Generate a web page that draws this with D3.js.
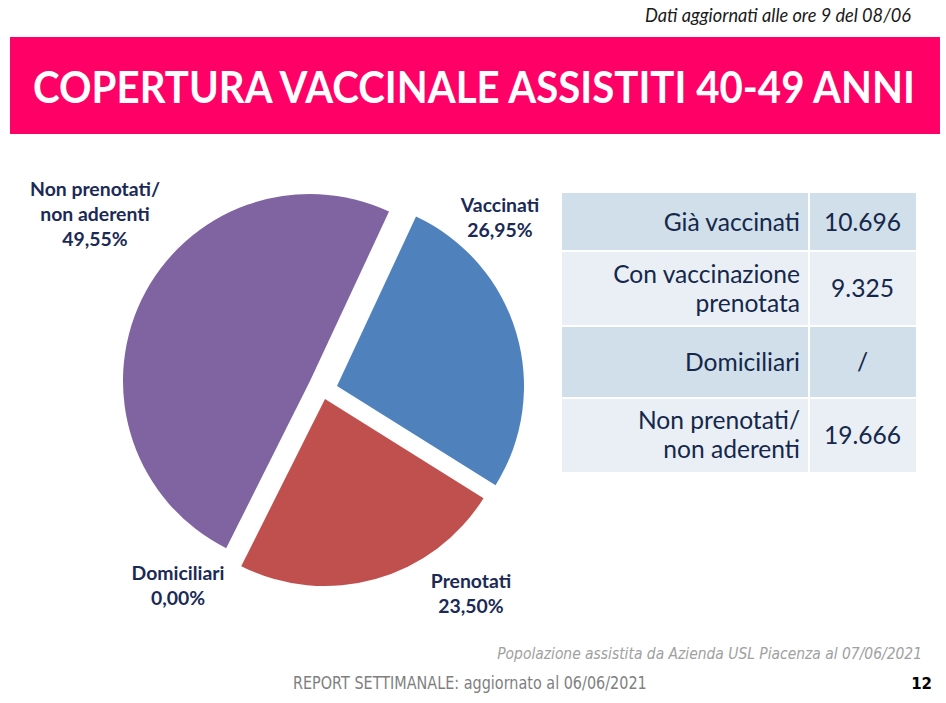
<!DOCTYPE html>
<html>
<head>
<meta charset="utf-8">
<script src="https://cdn.jsdelivr.net/npm/d3@7"></script>
<style>
  html, body { margin: 0; padding: 0; background: #ffffff; }
  svg { display: block; }
</style>
</head>
<body>
<svg id="chart" width="946" height="703"></svg>
<script>
// ---------------- DATA ----------------
const categories = ["Vaccinati", "Prenotati", "Domiciliari", "Non prenotati/ non aderenti"];
const percentages = [26.95, 23.50, 0.00, 49.55];
const pctLabels = ["26,95%", "23,50%", "0,00%", "49,55%"];
const sliceLabelLines = [["Vaccinati"], ["Prenotati"], ["Domiciliari"], ["Non prenotati/", "non aderenti"]];
const tableLabels = [["Già vaccinati"], ["Con vaccinazione", "prenotata"], ["Domiciliari"], ["Non prenotati/", "non aderenti"]];
const tableValues = ["10.696", "9.325", "/", "19.666"];
const titleText = "COPERTURA VACCINALE ASSISTITI 40-49 ANNI";
const updateText = "Dati aggiornati alle ore 9 del 08/06";
const sourceText = "Popolazione assistita da Azienda USL Piacenza al 07/06/2021";
const reportText = "REPORT SETTIMANALE: aggiornato al 06/06/2021";
const pageNumber = "12";

// ---------------- LAYOUT / STYLE ----------------
const sliceColors = ["#4F81BD", "#C0504D", "#9BBB59", "#8064A2"];
const pieCenter = [323, 389];
const pieRadius = 187;
const startDeg = 25;
// explode offsets of each slice (style)
const explode = [[14, -3], [2, 10], [0, 0], [-13, -8]];
// label anchor (centre x, first baseline y)
const labelPos = [[500, 212], [471, 588], [178, 580], [95, 196]];
const labelLineH = 25;
const navy = "#1B2A55";

const svg = d3.select("#chart");

function fitSize(sel, target, base) {
  sel.style("font-size", base + "px");
  const w = sel.node().getComputedTextLength();
  const s = base * target / w;
  sel.style("font-size", s + "px");
  return s;
}
function stretchY(sel, k) {
  const x = +sel.attr("x"), y = +sel.attr("y");
  sel.attr("transform", `translate(0,${y}) scale(1,${k}) translate(0,${-y})`);
}

// ---------------- HEADER ----------------
const upd = svg.append("text")
  .attr("x", 911).attr("y", 22)
  .attr("text-anchor", "end")
  .attr("font-family", "Lato, 'Open Sans', sans-serif")
  .attr("font-style", "italic")
  .attr("fill", "#1a1a1a")
  .text(updateText);
fitSize(upd, 266, 16);
stretchY(upd, 1.08);

svg.append("rect")
  .attr("x", 10).attr("y", 37).attr("width", 930).attr("height", 97)
  .attr("fill", "#FF0066");

const title = svg.append("text")
  .attr("x", 474).attr("y", 103)
  .attr("text-anchor", "middle")
  .attr("font-family", "Lato, 'Open Sans', sans-serif")
  .attr("font-weight", "bold")
  .attr("fill", "#ffffff")
  .text(titleText);
fitSize(title, 882, 44);
stretchY(title, 1.1);

// ---------------- PIE ----------------
const pie = d3.pie().sort(null).value(d => d)
  .startAngle(startDeg * Math.PI / 180)
  .endAngle(startDeg * Math.PI / 180 + 2 * Math.PI);
const arcs = pie(percentages);
const arc = d3.arc().innerRadius(0).outerRadius(pieRadius);

const pg = svg.append("g").attr("transform", `translate(${pieCenter[0]},${pieCenter[1]})`);
pg.selectAll("path.slice")
  .data(arcs)
  .join("path")
  .attr("class", "slice")
  .attr("transform", (d, i) => `translate(${explode[i][0]},${explode[i][1]})`)
  .attr("d", d => (d.endAngle - d.startAngle) > 0 ? arc(d) : null)
  .attr("fill", (d, i) => sliceColors[i]);

// slice labels
categories.forEach((c, i) => {
  const lines = sliceLabelLines[i].concat([pctLabels[i]]);
  const g = svg.append("g");
  lines.forEach((ln, j) => {
    g.append("text")
      .attr("class", "slabel")
      .attr("x", labelPos[i][0])
      .attr("y", labelPos[i][1] + j * labelLineH)
      .attr("text-anchor", "middle")
      .attr("font-family", "Lato, 'Open Sans', sans-serif")
      .attr("font-weight", "bold")
      .attr("fill", navy)
      .text(ln);
  });
});
{
  const ref = svg.selectAll("text.slabel").filter(function () { return d3.select(this).text() === "Non prenotati/"; });
  const s = fitSize(ref, 130, 17);
  svg.selectAll("text.slabel").style("font-size", s + "px");
}

// ---------------- TABLE ----------------
const tX0 = 562, tX1 = 916, tSplit = 809;
const rowEdges = [193, 251, 326, 398, 472];
const rowFill = ["#D0DFE9", "#E9EFF4", "#D0DFE9", "#E9EFF4"];
const tg = svg.append("g");
tableValues.forEach((v, i) => {
  const y0 = rowEdges[i], y1 = rowEdges[i + 1];
  tg.append("rect").attr("x", tX0).attr("y", y0).attr("width", tSplit - tX0).attr("height", y1 - y0).attr("fill", rowFill[i]);
  tg.append("rect").attr("x", tSplit).attr("y", y0).attr("width", tX1 - tSplit).attr("height", y1 - y0).attr("fill", rowFill[i]);
});
rowEdges.slice(1, -1).forEach(y => {
  tg.append("line").attr("x1", tX0).attr("x2", tX1).attr("y1", y).attr("y2", y)
    .attr("stroke", "#ffffff").attr("stroke-width", 2);
});
tg.append("line").attr("x1", tSplit).attr("x2", tSplit).attr("y1", rowEdges[0]).attr("y2", rowEdges[4])
  .attr("stroke", "#ffffff").attr("stroke-width", 2);

const tableLineH = 29;
tableLabels.forEach((lines, i) => {
  const yc = (rowEdges[i] + rowEdges[i + 1]) / 2;
  const n = lines.length;
  lines.forEach((ln, j) => {
    tg.append("text")
      .attr("class", "tlabel")
      .attr("x", 800)
      .attr("y", yc + (j - (n - 1) / 2) * tableLineH)
      .attr("dy", "0.35em")
      .attr("text-anchor", "end")
      .attr("font-family", "Lato, 'Open Sans', sans-serif")
      .attr("fill", "#15284B")
      .text(ln);
  });
  tg.append("text")
    .attr("class", "tlabel")
    .attr("x", (tSplit + tX1) / 2)
    .attr("y", yc)
    .attr("dy", "0.35em")
    .attr("text-anchor", "middle")
    .attr("font-family", "Lato, 'Open Sans', sans-serif")
    .attr("fill", "#15284B")
    .text(tableValues[i]);
});
{
  const ref = tg.selectAll("text.tlabel").filter(function () { return d3.select(this).text() === "Con vaccinazione"; });
  const s = fitSize(ref, 187, 22);
  tg.selectAll("text.tlabel").style("font-size", s + "px");
}

// ---------------- FOOTER ----------------
const src = svg.append("text")
  .attr("x", 922).attr("y", 659)
  .attr("text-anchor", "end")
  .attr("font-family", "'DejaVu Sans', Verdana, sans-serif")
  .attr("font-style", "italic")
  .attr("fill", "#A0A0A0")
  .text(sourceText);
fitSize(src, 425, 14);
stretchY(src, 1.2);

const rep = svg.append("text")
  .attr("x", 293).attr("y", 689)
  .attr("font-family", "'DejaVu Sans', Verdana, sans-serif")
  .attr("fill", "#7F7F7F")
  .text(reportText);
fitSize(rep, 354, 14);
stretchY(rep, 1.2);

svg.append("text")
  .attr("x", 932).attr("y", 689)
  .attr("text-anchor", "end")
  .attr("font-family", "'DejaVu Sans', Verdana, sans-serif")
  .attr("font-weight", "bold")
  .attr("font-size", "15px")
  .attr("fill", "#000000")
  .text(pageNumber);
</script>
</body>
</html>
